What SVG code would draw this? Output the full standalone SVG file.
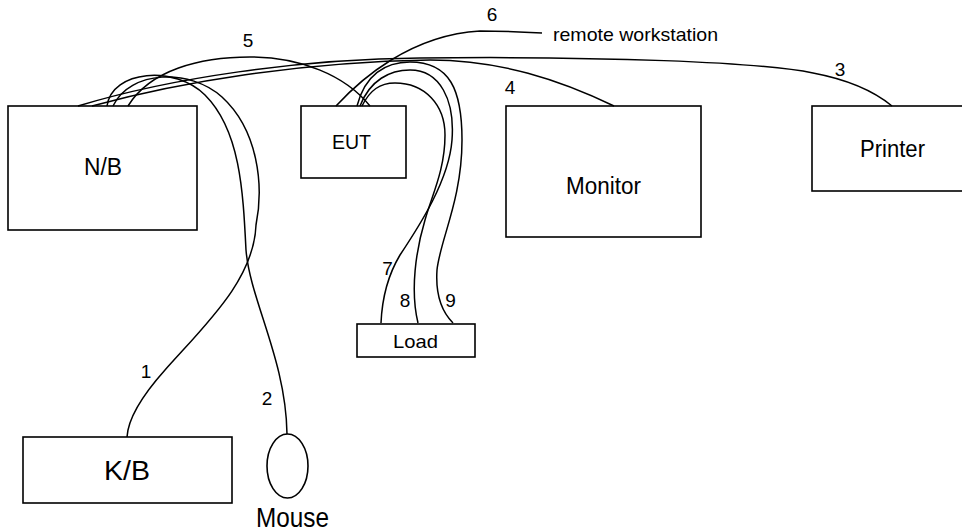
<svg xmlns="http://www.w3.org/2000/svg" width="962" height="532" viewBox="0 0 962 532">
<style>
.box{fill:#fff;stroke:#000;stroke-width:1.6}
.cab{fill:none;stroke:#000;stroke-width:1.5}
.lbl{font-family:"Liberation Sans",Arial,sans-serif;fill:#000}
.num{font-family:"Liberation Sans",Arial,sans-serif;font-size:19px;fill:#000;text-anchor:middle}
</style>
<rect width="962" height="532" fill="#fff"/>
<g id="nb"><rect class="box" x="8" y="106" width="189" height="124"/><text class="lbl" x="84" y="175" font-size="23" textLength="38" lengthAdjust="spacingAndGlyphs">N/B</text></g>
<g id="eut"><rect class="box" x="301" y="106" width="105" height="72"/><text class="lbl" x="332" y="149" font-size="20" textLength="39" lengthAdjust="spacingAndGlyphs">EUT</text></g>
<g id="monitor"><rect class="box" x="506" y="106" width="195" height="131"/><text class="lbl" x="566" y="194" font-size="23.5" textLength="75" lengthAdjust="spacingAndGlyphs">Monitor</text></g>
<g id="printer"><rect class="box" x="812" y="106" width="170" height="85"/><text class="lbl" x="860" y="157" font-size="23" textLength="65" lengthAdjust="spacingAndGlyphs">Printer</text></g>
<g id="kb"><rect class="box" x="23" y="437" width="209" height="66"/><text class="lbl" x="104" y="480" font-size="28" textLength="46" lengthAdjust="spacingAndGlyphs">K/B</text></g>
<g id="mouse"><ellipse class="box" cx="287.5" cy="466" rx="20.5" ry="32"/><text class="lbl" x="256" y="527" font-size="28" textLength="73" lengthAdjust="spacingAndGlyphs">Mouse</text></g>
<g id="load"><rect class="box" x="357" y="324" width="118" height="33"/><text class="lbl" x="393" y="348" font-size="19" textLength="45" lengthAdjust="spacingAndGlyphs">Load</text></g>
<g id="remote"><text class="lbl" x="553" y="41" font-size="19" textLength="165" lengthAdjust="spacingAndGlyphs">remote workstation</text></g>
<g id="connectors">
<path class="cab" d="M127,437 C128,420 140,398 165,370 C205,325 254,280 256,225 C264,185 258,130 222,97 C190,68 130,70 113,106"/>
<path class="cab" d="M107,106 C112,70 175,65 205,95 C240,130 243,190 246,250 C250,300 286,360 287,434"/>
<path class="cab" d="M78,106 C170,78 300,59 420,58 C600,56 760,62 813,73 C850,80 875,92 892,106"/>
<path class="cab" d="M92,106 C180,82 300,62 430,60 C500,60 560,80 614,106"/>
<path class="cab" d="M128,106 C150,70 200,57 250,57 C300,57 345,75 370,106"/>
<path class="cab" d="M336,106 C360,80 410,35 480,31 C505,31 525,32 542,33"/>
<path class="cab" d="M360,106 C370,80 390,70 410,70 C440,70 455,100 452,140 C449,180 420,225 400,255 C388,275 382,300 381,323"/>
<path class="cab" d="M362,106 C370,90 380,83 395,83 C425,83 445,105 445,135 C445,170 432,195 425,220 C416,250 410,290 418,323"/>
<path class="cab" d="M357,106 C365,75 385,62 410,62 C450,62 462,90 462,140 C462,200 440,240 437,270 C435,300 445,315 453,323"/>
</g>
<g id="labels">
<text class="num" x="146" y="378">1</text>
<text class="num" x="267" y="405">2</text>
<text class="num" x="840" y="76">3</text>
<text class="num" x="510" y="94">4</text>
<text class="num" x="248" y="47">5</text>
<text class="num" x="492" y="21">6</text>
<text class="num" x="387.5" y="275">7</text>
<text class="num" x="405" y="307">8</text>
<text class="num" x="450.5" y="307">9</text>
</g>
</svg>
